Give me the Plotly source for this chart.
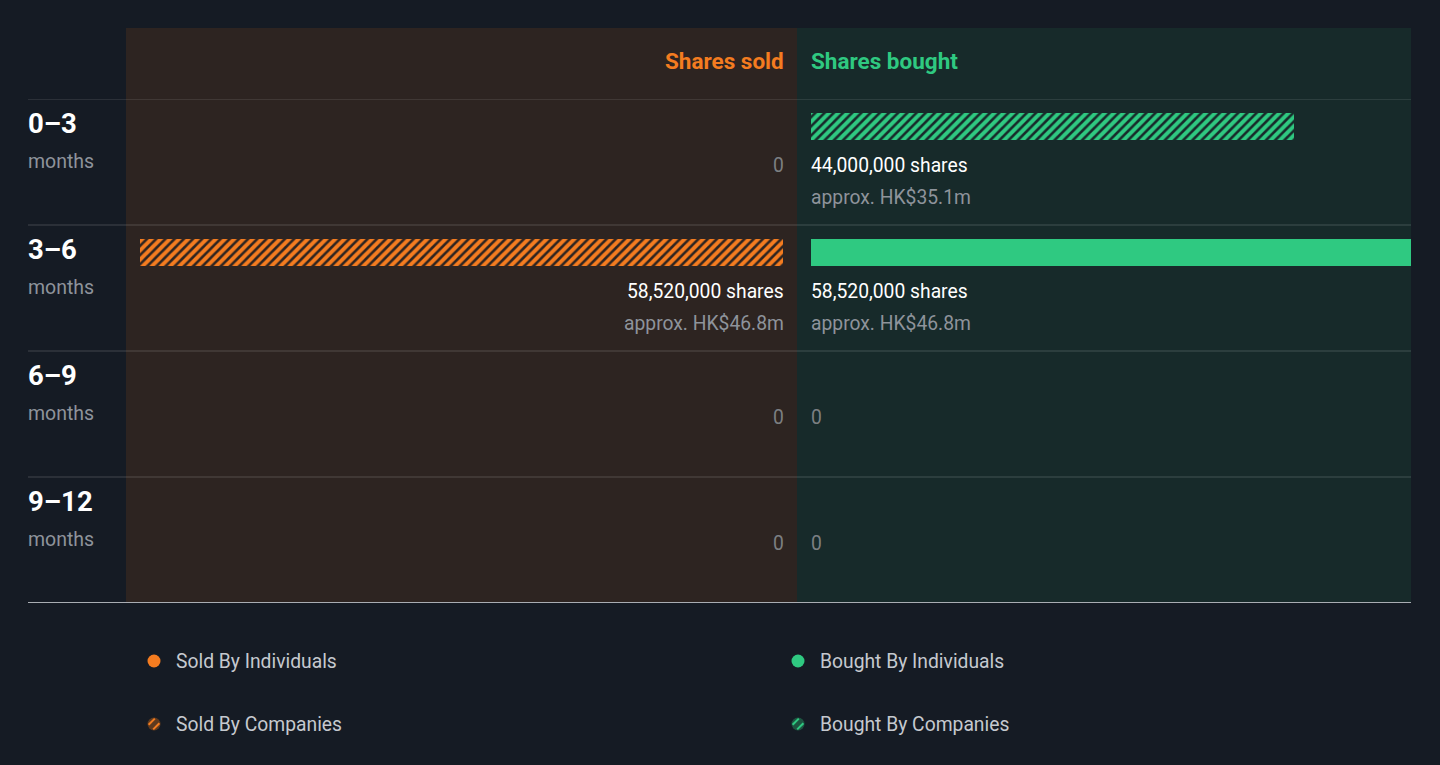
import plotly.graph_objects as go

# insider trading volume by period
periods = ["0–3", "3–6", "6–9", "9–12"]
sold_individuals = [0, 0, 0, 0]
sold_companies = [0, 58520000, 0, 0]
bought_individuals = [0, 58520000, 0, 0]
bought_companies = [44000000, 0, 0, 0]
sold_value_m = [0, 46.8, 0, 0]      # HK$ millions
bought_value_m = [35.1, 46.8, 0, 0]  # HK$ millions

W, H = 1440, 765
BG = "#151b24"
SOLD_BG = "#2d2421"
BOUGHT_BG = "#172a2a"
ORANGE = "#f47c20"
GREEN = "#2fc981"
FONT = "Roboto"
TXT = 19.3


def px(x):
    return x / W


def py(y):
    return 1 - y / H


# pixels per share, same scale on both sides
k = 58520000 / 643.0

fig = go.Figure()

fig.add_trace(go.Bar(
    y=list(range(len(periods))), x=sold_individuals, orientation="h",
    xaxis="x", yaxis="y", width=0.214, offset=0.111,
    marker=dict(color=ORANGE, line=dict(width=0)),
    name="Sold By Individuals", hoverinfo="skip",
))
fig.add_trace(go.Bar(
    y=list(range(len(periods))), x=sold_companies, orientation="h",
    xaxis="x", yaxis="y", width=0.214, offset=0.111,
    marker=dict(color=SOLD_BG, line=dict(width=0),
                pattern=dict(shape="/", fgcolor=ORANGE, bgcolor=SOLD_BG,
                             size=6.5, solidity=0.6, fgopacity=1)),
    name="Sold By Companies", hoverinfo="skip",
))
fig.add_trace(go.Bar(
    y=list(range(len(periods))), x=bought_individuals, orientation="h",
    xaxis="x2", yaxis="y", width=0.214, offset=0.111,
    marker=dict(color=GREEN, line=dict(width=0)),
    name="Bought By Individuals", hoverinfo="skip",
))
fig.add_trace(go.Bar(
    y=list(range(len(periods))), x=bought_companies, orientation="h",
    xaxis="x2", yaxis="y", width=0.214, offset=0.111,
    marker=dict(color=BOUGHT_BG, line=dict(width=0),
                pattern=dict(shape="/", fgcolor=GREEN, bgcolor=BOUGHT_BG,
                             size=6.5, solidity=0.6, fgopacity=1)),
    name="Bought By Companies", hoverinfo="skip",
))

shapes = []
# panels
shapes.append(dict(type="rect", xref="paper", yref="paper", layer="below",
                   x0=px(126), x1=px(797), y0=py(602), y1=py(28),
                   fillcolor=SOLD_BG, line=dict(width=0)))
shapes.append(dict(type="rect", xref="paper", yref="paper", layer="below",
                   x0=px(797), x1=px(1411), y0=py(602), y1=py(28),
                   fillcolor=BOUGHT_BG, line=dict(width=0)))
# row separators
for i in range(len(periods)):
    shapes.append(dict(type="line", xref="paper", yref="y", layer="above",
                       x0=px(28), x1=px(1411), y0=i, y1=i,
                       line=dict(color="rgba(255,255,255,0.13)", width=1.5)))
shapes.append(dict(type="line", xref="paper", yref="y", layer="above",
                   x0=px(28), x1=px(1411), y0=len(periods), y1=len(periods),
                   line=dict(color="#a9adb3", width=2)))

annotations = []
annotations.append(dict(text="<b>Shares sold</b>", xref="x", yref="paper",
                        x=0, y=py(61), xanchor="right", yanchor="middle", xshift=3,
                        showarrow=False, font=dict(family=FONT, size=22.5, color=ORANGE)))
annotations.append(dict(text="<b>Shares bought</b>", xref="x2", yref="paper",
                        x=0, y=py(61), xanchor="left", yanchor="middle", xshift=-2,
                        showarrow=False, font=dict(family=FONT, size=22.5, color=GREEN)))

for i, p in enumerate(periods):
    annotations.append(dict(text="<b>%s</b>" % p, xref="paper", yref="y",
                            x=px(26), y=i + 0.195, xanchor="left", yanchor="middle",
                            showarrow=False, font=dict(family=FONT, size=27.5, color="#ffffff")))
    annotations.append(dict(text="months", xref="paper", yref="y",
                            x=px(26), y=i + 0.495, xanchor="left", yanchor="middle",
                            showarrow=False, font=dict(family=FONT, size=19.5, color="#8e939b")))

    sides = [
        ("x", "right", 3, sold_individuals[i] + sold_companies[i], sold_value_m[i]),
        ("x2", "left", -2, bought_individuals[i] + bought_companies[i], bought_value_m[i]),
    ]
    for ax, anchor, shift, total, val in sides:
        if total > 0:
            annotations.append(dict(text="{:,} shares".format(total), xref=ax, yref="y",
                                    x=0, y=i + 0.524, xanchor=anchor, yanchor="middle",
                                    xshift=shift, showarrow=False,
                                    font=dict(family=FONT, size=TXT, color="#ffffff")))
            annotations.append(dict(text="approx. HK${:.1f}m".format(val), xref=ax, yref="y",
                                    x=0, y=i + 0.778, xanchor=anchor, yanchor="middle",
                                    xshift=shift, showarrow=False,
                                    font=dict(family=FONT, size=TXT, color="#8e939b")))
        else:
            annotations.append(dict(text="0", xref=ax, yref="y",
                                    x=0, y=i + 0.524, xanchor=anchor, yanchor="middle",
                                    xshift=shift, showarrow=False,
                                    font=dict(family=FONT, size=TXT, color="#7c7f82")))

# legend drawn by hand (circles)
legend_items = [
    ("Sold By Individuals", 154, 661, ORANGE, False),
    ("Bought By Individuals", 798, 661, GREEN, False),
    ("Sold By Companies", 154, 724, ORANGE, True),
    ("Bought By Companies", 798, 724, GREEN, True),
]
for label, cx, cy, col, hatched in legend_items:
    r = 6.5
    fill = col
    if hatched:
        fill = "#5e3a1f" if col == ORANGE else "#1d5440"
    shapes.append(dict(type="circle", xref="paper", yref="paper",
                       x0=px(cx - r), x1=px(cx + r), y0=py(cy + r), y1=py(cy - r),
                       fillcolor=fill, line=dict(width=0)))
    if hatched:
        for d in (-2.3, 2.3):
            L = 3.8 - abs(d) * 0.3
            shapes.append(dict(type="line", xref="paper", yref="paper",
                               x0=px(cx - L + d), y0=py(cy + L + d),
                               x1=px(cx + L + d), y1=py(cy - L + d),
                               line=dict(color=col, width=2)))
    annotations.append(dict(text=label, xref="paper", yref="paper",
                            x=px(cx + 20), y=py(cy), xanchor="left", yanchor="middle",
                            showarrow=False, font=dict(family=FONT, size=TXT, color="#c5c9cf")))

fig.update_layout(
    width=W, height=H,
    margin=dict(l=0, r=0, t=0, b=0),
    paper_bgcolor=BG, plot_bgcolor="rgba(0,0,0,0)",
    barmode="stack", bargap=0, showlegend=False,
    xaxis=dict(domain=[px(126), px(797)], range=[657 * k, -14 * k],
               visible=False, fixedrange=True),
    xaxis2=dict(domain=[px(797), px(1411)], range=[-14 * k, 600 * k],
                visible=False, fixedrange=True, anchor="y"),
    yaxis=dict(domain=[py(603), py(99)], range=[len(periods), 0],
               visible=False, fixedrange=True),
    shapes=shapes, annotations=annotations,
)

fig.write_html("out.html", config={"displayModeBar": False},
               post_script="document.body.style.margin='0';"
                           "document.body.style.background='%s';" % BG)
